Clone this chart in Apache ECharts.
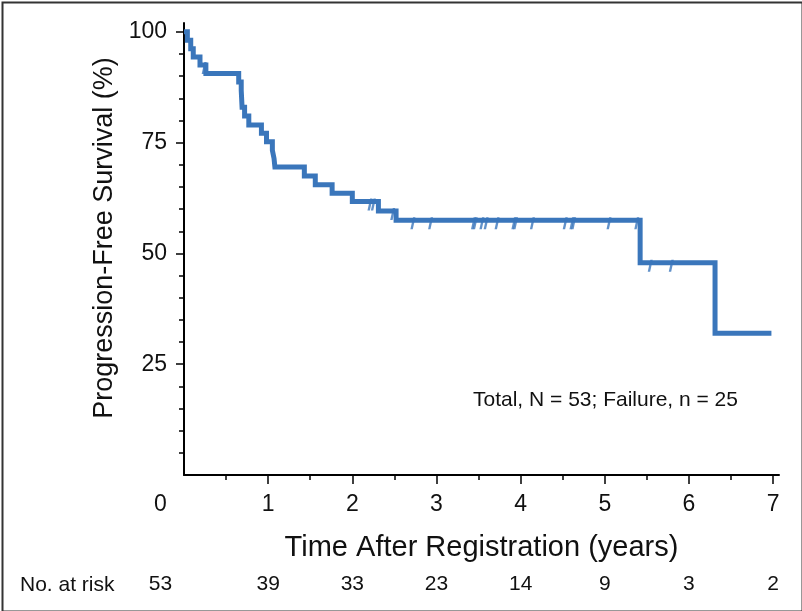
<!DOCTYPE html>
<html>
<head>
<meta charset="utf-8">
<script src="https://cdn.jsdelivr.net/npm/echarts@6/dist/echarts.min.js"></script>
<style>
html,body{margin:0;padding:0;background:#fff;}
#chart{width:802px;height:611px;}
</style>
</head>
<body>
<div id="chart"></div>
<script>
// Kaplan-Meier step points (time in years, survival %)
const eventTimes    = [0, 0.04, 0.08, 0.11, 0.19, 0.26, 0.65, 0.68, 0.685, 0.69, 0.72, 0.77, 0.92, 0.98, 1.05, 1.07, 1.08, 1.43, 1.56, 1.76, 2.00, 2.31, 2.52, 5.42, 6.31, 6.98];
const survivalPct   = [100, 98.1, 96.2, 94.3, 92.5, 90.6, 88.7, 86.8, 84.9, 83.0, 81.0, 79.0, 77.1, 75.2, 73.3, 71.4, 69.5, 67.5, 65.5, 63.6, 61.7, 59.6, 57.5, 47.9, 32.0, 32.0];
// censored observations
const censorTimes    = [0.24, 2.21, 2.25, 2.48, 2.72, 2.93, 3.44, 3.46, 3.54, 3.59, 3.72, 3.92, 3.94, 4.14, 4.53, 4.61, 4.63, 5.05, 5.38, 5.54, 5.79];
const censorSurvival = [92.5, 61.7, 61.7, 59.6, 57.5, 57.5, 57.5, 57.5, 57.5, 57.5, 57.5, 57.5, 57.5, 57.5, 57.5, 57.5, 57.5, 57.5, 57.5, 47.9, 47.9];
// axes
const xMajorTicks = [1, 2, 3, 4, 5, 6, 7];
const xMinorTicks = [0.5, 1.5, 2.5, 3.5, 4.5, 5.5, 6.5];
const xTickLabels = [0, 1, 2, 3, 4, 5, 6, 7];
const yMajorTicks = [25, 50, 75, 100];
const yMinorTicks = [5, 10, 15, 20, 30, 35, 40, 45, 55, 60, 65, 70, 80, 85, 90, 95];
// number at risk
const riskTimes  = [0, 1, 2, 3, 4, 5, 6, 7];
const riskCounts = [53, 39, 33, 23, 14, 9, 3, 2];

const FONT = '"Liberation Sans", Arial, Helvetica, sans-serif';
const BLUE = '#3a76bb';
const INK = '#111';
const XMAX = 7.07, YMAX = 102;

const chart = echarts.init(document.getElementById('chart'), null, {renderer: 'canvas'});

const baseX = {type: 'value', min: 0, max: XMAX, position: 'bottom', splitLine: {show: false}};
const baseY = {type: 'value', min: 0, max: YMAX, position: 'left', splitLine: {show: false}};

const option = {
  animation: false,
  backgroundColor: '#fff',
  grid: {left: 184, right: 23, top: 23, bottom: 136, containLabel: false},
  title: [
    {text: 'Total, N = 53; Failure, n = 25', left: 468, top: 385,
     textStyle: {fontFamily: FONT, fontSize: 21, fontWeight: 'normal', color: INK}},
    {text: 'No. at risk', left: 15, top: 570,
     textStyle: {fontFamily: FONT, fontSize: 21, fontWeight: 'normal', color: INK}}
  ],
  xAxis: [
    Object.assign({}, baseX, {
      name: 'Time After Registration (years)', nameLocation: 'middle', nameGap: 58,
      nameTextStyle: {fontFamily: FONT, fontSize: 29, color: INK},
      axisLine: {show: true, lineStyle: {color: '#000', width: 2}},
      axisTick: {show: true, customValues: xMajorTicks, length: 9, inside: false, lineStyle: {color: '#000', width: 1.5}},
      axisLabel: {show: true, customValues: xTickLabels, margin: 18, fontFamily: FONT, fontSize: 23, color: INK,
        formatter: v => v === 0 ? '{z|0}' : String(v),
        rich: {z: {fontFamily: FONT, fontSize: 23, color: INK, padding: [0, 47, 0, 0]}}}
    }),
    Object.assign({}, baseX, {
      axisLine: {show: false},
      axisTick: {show: true, customValues: xMinorTicks, length: 5, lineStyle: {color: '#000', width: 1.5}},
      axisLabel: {show: false}
    }),
    Object.assign({}, baseX, {
      offset: 95,
      axisLine: {show: false},
      axisTick: {show: false},
      axisLabel: {show: true, customValues: riskTimes, margin: 4, fontFamily: FONT, fontSize: 21, color: INK,
        formatter: v => {
          const i = riskTimes.indexOf(v);
          const c = i >= 0 ? riskCounts[i] : '';
          return v === 0 ? '{z|' + c + '}' : String(c);
        },
        rich: {z: {fontFamily: FONT, fontSize: 21, color: INK, padding: [0, 47, 0, 0]}}}
    })
  ],
  yAxis: [
    Object.assign({}, baseY, {
      name: 'Progression-Free Survival (%)', nameLocation: 'middle', nameGap: 64,
      nameTextStyle: {fontFamily: FONT, fontSize: 27, color: INK, padding: [0, 0, 0, 22]},
      axisLine: {show: true, lineStyle: {color: '#000', width: 2}},
      axisTick: {show: true, customValues: yMajorTicks, length: 8, lineStyle: {color: '#000', width: 1.5}},
      axisLabel: {show: true, customValues: yMajorTicks, margin: 17, fontFamily: FONT, fontSize: 23, color: INK}
    }),
    Object.assign({}, baseY, {
      axisLine: {show: false},
      axisTick: {show: true, customValues: yMinorTicks, length: 5, lineStyle: {color: '#000', width: 1.5}},
      axisLabel: {show: false}
    })
  ],
  series: [
    {
      type: 'line', xAxisIndex: 0, yAxisIndex: 0,
      data: eventTimes.map((t, i) => [t, survivalPct[i]]),
      step: 'end', showSymbol: false, symbol: 'none',
      lineStyle: {color: BLUE, width: 5, join: 'miter', cap: 'butt'},
      z: 3
    },
    {
      type: 'scatter', xAxisIndex: 0, yAxisIndex: 0,
      data: censorTimes.map((t, i) => [t, censorSurvival[i]]),
      symbol: 'path://M2.6,0 L5,0 L2.4,12 L0,12 Z',
      symbolSize: [5, 12], symbolOffset: [0, 3],
      itemStyle: {color: BLUE},
      z: 4
    }
  ],
  graphic: [
    {type: 'rect', left: 0, top: 0, shape: {x: 1, y: 1, width: 800, height: 609},
     style: {fill: 'none', stroke: '#333', lineWidth: 2}, silent: true, z: 10}
  ]
};
chart.setOption(option);
</script>
</body>
</html>
